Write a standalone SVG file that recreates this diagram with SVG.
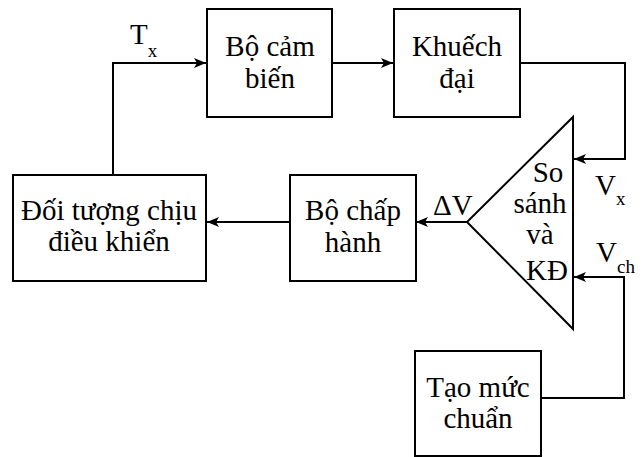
<svg xmlns="http://www.w3.org/2000/svg" width="643" height="457" viewBox="0 0 643 457">
<defs>
<marker id="ah" markerWidth="12" markerHeight="10" refX="12" refY="5" orient="auto" markerUnits="userSpaceOnUse">
<path d="M0,0 L12,5 L0,10 L3,5 Z" fill="#000"/>
</marker>
</defs>
<style>
.box{fill:#fff;stroke:#000;stroke-width:2}
.c{fill:none;stroke:#000;stroke-width:2}
.t{font-family:'Liberation Serif','Times New Roman',serif;font-size:29px;fill:#000;text-anchor:middle}
.l{font-family:'Liberation Serif','Times New Roman',serif;font-size:29px;fill:#000}
.s{font-size:19px}
</style>
<rect width="643" height="457" fill="#fff"/>
<g id="connectors">
<path class="c" d="M113,175 L113,63 L206,63" marker-end="url(#ah)"/>
<path class="c" d="M332,63 L393,63" marker-end="url(#ah)"/>
<path class="c" d="M520,63 L625,63 L625,159 L574,159" marker-end="url(#ah)"/>
<path class="c" d="M541,398 L624,398 L624,277 L574,277" marker-end="url(#ah)"/>
<path class="c" d="M467,222 L416,222" marker-end="url(#ah)"/>
<path class="c" d="M290,222 L207,222" marker-end="url(#ah)"/>
</g>
<g id="sensor">
<rect class="box" x="207" y="9" width="125" height="108"/>
<text class="t" x="270" y="56">Bộ cảm</text>
<text class="t" x="270" y="88">biến</text>
</g>
<g id="amplifier">
<rect class="box" x="394" y="9" width="126" height="108"/>
<text class="t" x="457" y="56">Khuếch</text>
<text class="t" x="457" y="88">đại</text>
</g>
<g id="comparator">
<path class="box" d="M573,117 L573,329 L467,222 Z"/>
<text class="t" x="548" y="182">So</text>
<text class="t" x="540" y="213">sánh</text>
<text class="t" x="540" y="244">và</text>
<text class="t" x="547" y="280">KĐ</text>
</g>
<g id="actuator">
<rect class="box" x="290" y="175" width="126" height="106"/>
<text class="t" x="353" y="220">Bộ chấp</text>
<text class="t" x="353" y="252">hành</text>
</g>
<g id="plant">
<rect class="box" x="13" y="175" width="193" height="106"/>
<text class="t" x="109" y="220">Đối tượng chịu</text>
<text class="t" x="109" y="251">điều khiển</text>
</g>
<g id="reference">
<rect class="box" x="415" y="351" width="126" height="105"/>
<text class="t" x="478" y="397">Tạo mức</text>
<text class="t" x="478" y="428">chuẩn</text>
</g>
<g id="labels">
<text class="l" x="130" y="44">T<tspan class="s" dy="13">x</tspan></text>
<text class="l" x="433" y="215">ΔV</text>
<text class="l" x="595" y="195">V<tspan class="s" dy="10">x</tspan></text>
<text class="l" x="596" y="262">V<tspan class="s" dy="11">ch</tspan></text>
</g>
</svg>
